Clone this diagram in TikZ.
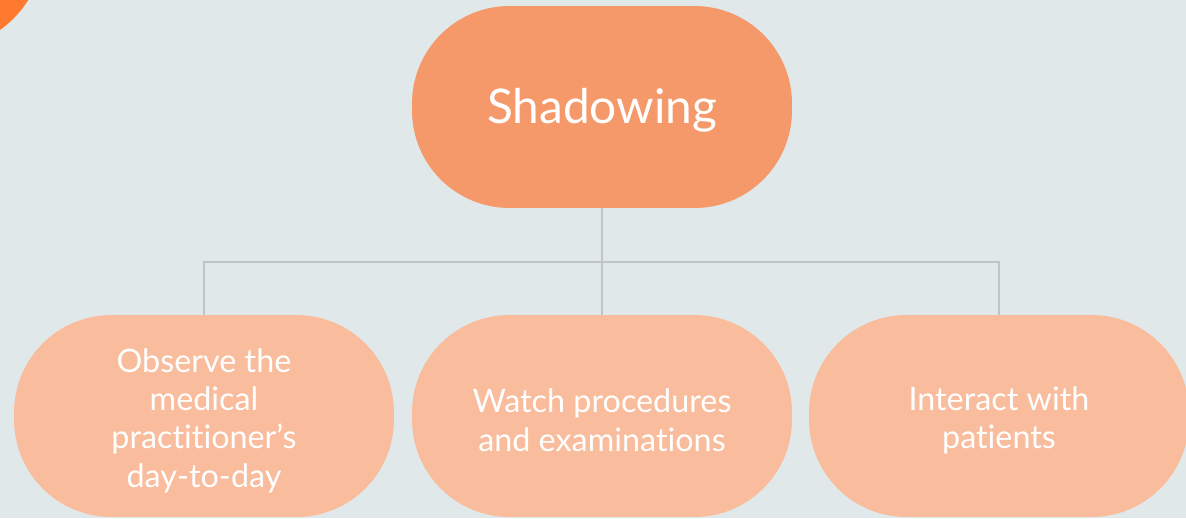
\documentclass[tikz,border=0pt]{standalone}
\usepackage{fontspec}
\setmainfont{Lato}[Ligatures=NoCommon]
\definecolor{bgcol}{HTML}{E0E8EA}
\definecolor{topcol}{HTML}{F5996A}
\definecolor{subcol}{HTML}{F9BC9C}
\definecolor{linecol}{HTML}{BFC4C6}
\definecolor{dotcol}{HTML}{FF7A2E}
\newcommand{\dropby}[2]{\raisebox{-#1}[\height][\depth]{#2}}
\tikzset{
	pill/.style={rectangle, rounded corners=1.95cm, minimum width=7.6cm, minimum height=4.04cm, align=center, text=white, inner sep=0pt},
	topbox/.style={pill, fill=topcol, font=\fontsize{27.2}{33}\selectfont},
	subbox/.style={pill, fill=subcol, font=\fontsize{18.4}{21.8}\selectfont},
	link/.style={draw=linecol, line width=1.1pt}
}
\begin{document}
\begin{tikzpicture}[x=0.02cm, y=-0.02cm]
	\def\bary{262}
	\def\suby{416}
	\fill[bgcol] (0,0) rectangle (1186,518);
	\useasboundingbox (0,0) rectangle (1186,518);
	\fill[dotcol] (-60,-55) circle (2.08cm);

	\node[topbox] (shadow) at (602,107) {\dropby{1.8pt}{Shadowing}};
	\node[subbox] (observe) at (204,\suby) {\dropby{2.6pt}{\parbox{7cm}{\centering Observe the\\medical\\practitioner’s\\day-to-day}}};
	\node[subbox] (watch) at (602,\suby) {\dropby{2.4pt}{\parbox{7cm}{\centering Watch procedures\\and examinations}}};
	\node[subbox] (interact) at (999,\suby) {\dropby{2.4pt}{\parbox{7cm}{\centering Interact with\\patients}}};

	\coordinate (bar) at (602,\bary);
	\draw[link] (shadow.south) -- (bar);
	\draw[link] (observe.north) |- (interact.north |- bar) -- (interact.north);
	\draw[link] (watch.north) -- (bar);
\end{tikzpicture}
\end{document}
